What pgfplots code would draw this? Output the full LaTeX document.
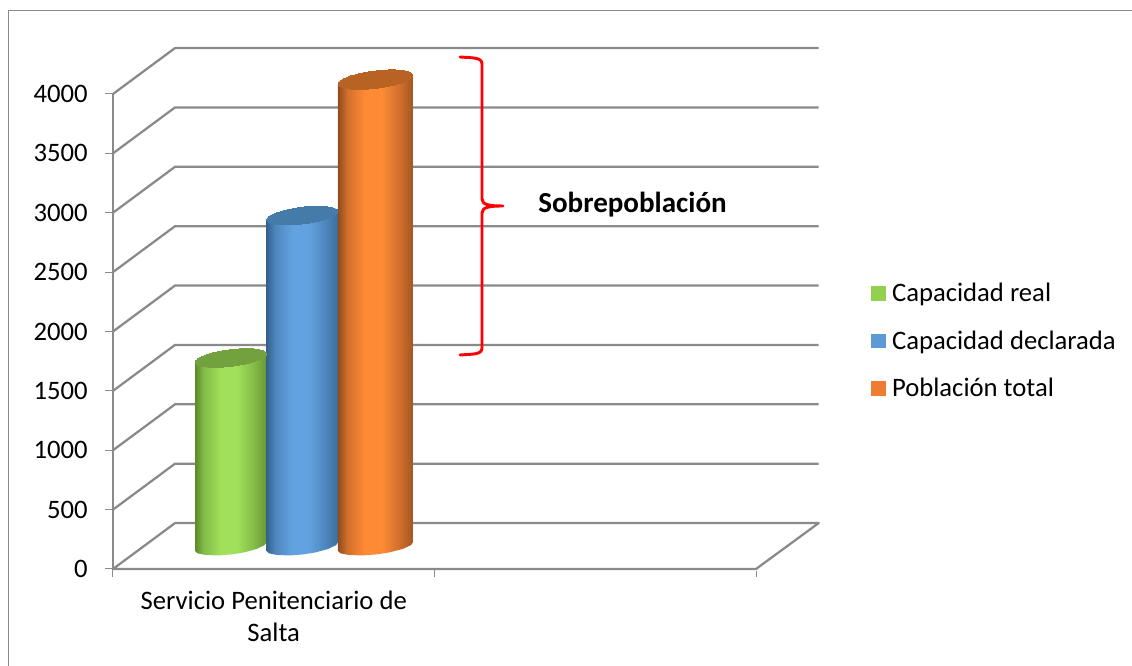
\documentclass[border=0pt]{standalone}
\usepackage{pgfplots}
\usepackage{fontspec}
\setmainfont{Carlito}
\pgfplotsset{compat=1.18}

\definecolor{wall}{HTML}{8A8A8A}
\definecolor{gd}{HTML}{5C8A2C}
\definecolor{gm}{HTML}{83BC47}
\definecolor{gl}{HTML}{A1E05B}
\definecolor{gt}{HTML}{72A13D}
\definecolor{bd}{HTML}{34628C}
\definecolor{bm}{HTML}{4E87BE}
\definecolor{bl}{HTML}{62A2E0}
\definecolor{bt}{HTML}{457BA8}
\definecolor{od}{HTML}{8F4C1C}
\definecolor{om}{HTML}{D06F2C}
\definecolor{ol}{HTML}{FF8A36}
\definecolor{ot}{HTML}{B86223}
\definecolor{lg}{HTML}{92D050}
\definecolor{lb}{HTML}{5B9BD5}
\definecolor{lo}{HTML}{ED7D31}

\pgfdeclarehorizontalshading{greenbar}{100bp}{color(0bp)=(gd); color(25bp)=(gd); color(31bp)=(gm); color(43bp)=(gl); color(54bp)=(gl); color(66bp)=(gm); color(75bp)=(gd!70!gm); color(100bp)=(gd)}
\pgfdeclarehorizontalshading{bluebar}{100bp}{color(0bp)=(bd); color(25bp)=(bd); color(31bp)=(bm); color(43bp)=(bl); color(54bp)=(bl); color(66bp)=(bm); color(75bp)=(bd!70!bm); color(100bp)=(bd)}
\pgfdeclarehorizontalshading{orangebar}{100bp}{color(0bp)=(od); color(25bp)=(od); color(31bp)=(om); color(43bp)=(ol); color(54bp)=(ol); color(66bp)=(om); color(75bp)=(od!70!om); color(100bp)=(od)}

\pgfplotsset{
    legend image code/.code={\fill[#1,draw=none] (0pt,-5.6pt) rectangle (11.2pt,5.6pt);},
    cyl/.style={forget plot, draw=none, mark=none, xshift=23.25pt, yshift=16.9pt},
    captop/.style={forget plot, only marks, xshift=23.25pt, yshift=16.9pt, mark=*, mark size=27pt,
        mark options={draw=#1, line width=0pt, fill=#1, rotate=7, yscale=0.23}},
    wallline/.style={forget plot, draw=wall, line width=1.7pt, line join=round, mark=none},
}

\begin{document}
\begin{tikzpicture}
\begin{scope}[x=0.75pt,y=-0.75pt,shift={(-84.75pt,426.75pt)}]
\path[use as bounding box] (0,0) rectangle (1132,666);
\draw[wall, line width=1pt] (8.7,666) -- (8.7,10.7) -- (1132,10.7);
\end{scope}

\begin{axis}[
    at={(0,0)}, anchor=south west,
    scale only axis, width=482.25pt, height=356.25pt,
    xmin=0, xmax=2, ymin=0, ymax=4000,
    clip=false,
    axis line style={draw=none},
    xtick={0,1,2}, xticklabels={,,},
    ytick={0,500,...,4000},
    xtick pos=lower, ytick pos=left,
    tick align=outside,
    major tick length=6pt,
    x tick style={draw=wall, line width=0.75pt, shorten >=1.5pt},
    y tick style={draw=wall, line width=0.75pt},
    tick label style={font=\fontsize{20}{24}\selectfont, text=black},
    yticklabel style={xshift=-9.5pt},
    /pgf/number format/assume math mode=true,
    /pgf/number format/set thousands separator={},
    legend style={draw=none, fill=none, legend cell align=left,
        at={(axis cs:2.356,1920)}, anchor=west, row sep=16.2pt,
        font=\fontsize{20}{24}\selectfont, inner xsep=0pt, inner ysep=0pt,
        /tikz/every odd column/.append style={column sep=2.8pt}},
]
% walls and floor
\addplot[wallline] coordinates {(0,0) (0,4000)};
\addplot[wallline] coordinates {(0.193,387) (2.195,387) (2,0) (0,0) (0.193,387)};
\addplot[wallline] coordinates {(0,500) (0.193,887) (2.195,887)};
\addplot[wallline] coordinates {(0,1000) (0.193,1387) (2.195,1387)};
\addplot[wallline] coordinates {(0,1500) (0.193,1887) (2.195,1887)};
\addplot[wallline] coordinates {(0,2000) (0.193,2387) (2.195,2387)};
\addplot[wallline] coordinates {(0,2500) (0.193,2887) (2.195,2887)};
\addplot[wallline] coordinates {(0,3000) (0.193,3387) (2.195,3387)};
\addplot[wallline] coordinates {(0,3500) (0.193,3887) (2.195,3887)};
\addplot[wallline] coordinates {(0,4000) (0.193,4387) (2.195,4387)};

% Capacidad real
\addplot[cyl, shade, shading=greenbar] coordinates {(0.1589,1550) (0.1589,-37) (0.1666,-58) (0.1935,-73) (0.2349,-75) (0.273,-67) (0.3109,-50) (0.3507,-21) (0.3755,12) (0.3811,37) (0.3811,1624)};
\addplot[captop=gt] coordinates {(0.27,1587)};
% Capacidad declarada
\addplot[cyl, shade, shading=bluebar] coordinates {(0.3813,2749) (0.3813,-37) (0.389,-58) (0.4159,-73) (0.4573,-75) (0.4954,-67) (0.5333,-50) (0.5731,-21) (0.5979,12) (0.6035,37) (0.6035,2823)};
\addplot[captop=bt] coordinates {(0.4924,2786)};
% Poblacion total
\addplot[cyl, shade, shading=orangebar] coordinates {(0.6033,3894) (0.6033,-37) (0.6114,-58) (0.6397,-73) (0.6831,-75) (0.723,-67) (0.7629,-50) (0.8047,-21) (0.8308,12) (0.8367,37) (0.8367,3968)};
\addplot[captop=ot, mark size=28.2pt] coordinates {(0.72,3931)};

\addlegendimage{fill=lg}
\addlegendentry{Capacidad real}
\addlegendimage{fill=lb}
\addlegendentry{Capacidad declarada}
\addlegendimage{fill=lo}
\addlegendentry{Población total}

\node[anchor=north, align=center, inner sep=0pt, yshift=-16pt, font=\fontsize{20}{24}\selectfont] at (axis cs:0.5,0) {Servicio Penitenciario de\\Salta};
\end{axis}

\begin{scope}[x=0.75pt,y=-0.75pt,shift={(-84.75pt,426.75pt)}]
\draw[red, line width=2.2pt, line cap=round, line join=round]
    (460,57) .. controls (472,58) and (482,57) .. (482,64) -- (482,199)
    .. controls (482,205) and (490,206) .. (503,206)
    .. controls (490,206) and (482,207) .. (482,213) -- (482,348)
    .. controls (482,355) and (472,354) .. (460,355);
\node[anchor=base west, inner sep=0pt, font=\fontsize{21.8}{26}\selectfont\bfseries] at (538,213) {Sobrepoblación};
\end{scope}
\end{tikzpicture}
\end{document}
